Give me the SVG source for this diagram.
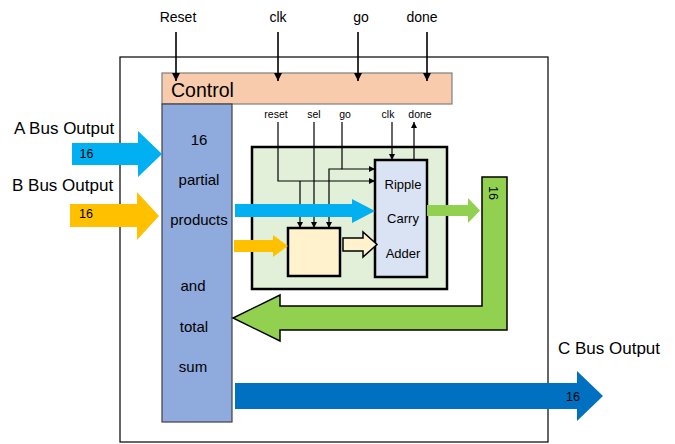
<svg xmlns="http://www.w3.org/2000/svg" width="675" height="444" viewBox="0 0 675 444">
  <defs>
    <marker id="tip" viewBox="0 0 10 10" refX="10" refY="5" markerWidth="6" markerHeight="6" markerUnits="userSpaceOnUse" orient="auto">
      <path d="M0,0 L10,5 L0,10 Z" fill="#000"/>
    </marker>
    <marker id="tipL" viewBox="0 0 10 10" refX="10" refY="5" markerWidth="8" markerHeight="8" markerUnits="userSpaceOnUse" orient="auto">
      <path d="M0,0 L10,5 L0,10 Z" fill="#000"/>
    </marker>
  </defs>
  <style>
    text { font-family: "Liberation Sans", Arial, sans-serif; fill: #000; }
    .lbl { font-size: 17px; }
    .top { font-size: 14px; text-anchor: middle; }
    .sig { font-size: 10.5px; text-anchor: middle; }
    .col { font-size: 15px; text-anchor: middle; }
    .rca { font-size: 13px; text-anchor: middle; }
    .num { font-size: 12.5px; text-anchor: middle; }
    .wire { fill: none; stroke: #000; stroke-width: 1.2; }
    .wireL { fill: none; stroke: #000; stroke-width: 1.6; }
  </style>

  <rect width="675" height="444" fill="#fff"/>

  <!-- outer datapath boundary -->
  <rect id="datapath" x="120" y="57" width="428" height="385" fill="#fff" stroke="#000" stroke-width="1.2"/>

  <!-- control unit -->
  <g id="control">
    <rect x="162" y="73" width="290" height="31" fill="#f8cbad" stroke="#7f7f7f" stroke-width="1.2"/>
    <text x="171" y="97" font-size="19.5">Control</text>
  </g>

  <!-- partial product / sum register column -->
  <g id="accumulator">
    <rect x="162" y="104" width="70" height="318" fill="#8faadc" stroke="#404040" stroke-width="1.2"/>
    <text class="col" x="199" y="145">16</text>
    <text class="col" x="199" y="185">partial</text>
    <text class="col" x="199" y="225">products</text>
    <text class="col" x="193" y="291">and</text>
    <text class="col" x="194" y="332">total</text>
    <text class="col" x="193" y="372">sum</text>
  </g>

  <!-- adder stage -->
  <g id="adder-stage">
    <rect x="252" y="147" width="195" height="142" fill="#e2f0d9" stroke="#000" stroke-width="2.5"/>
  </g>

  <g id="ripple-carry-adder">
    <rect x="375" y="160" width="52" height="117" fill="#dae3f3" stroke="#000" stroke-width="2.5"/>
    <text class="rca" x="403" y="189">Ripple</text>
    <text class="rca" x="403" y="223">Carry</text>
    <text class="rca" x="403" y="258">Adder</text>
  </g>

  <g id="mux">
    <rect x="288" y="228" width="52" height="48" fill="#fff2cc" stroke="#000" stroke-width="2.5"/>
  </g>

  <!-- external labels -->
  <g id="labels">
    <text class="top" x="178" y="22">Reset</text>
    <text class="top" x="278" y="22">clk</text>
    <text class="top" x="361" y="22">go</text>
    <text class="top" x="422" y="22">done</text>
    <text class="lbl" x="14" y="134">A Bus Output</text>
    <text class="lbl" x="12" y="191">B Bus Output</text>
    <text class="lbl" x="558" y="354">C Bus Output</text>
    <text class="sig" x="276" y="118">reset</text>
    <text class="sig" x="314" y="118">sel</text>
    <text class="sig" x="345" y="118">go</text>
    <text class="sig" x="388" y="118">clk</text>
    <text class="sig" x="420" y="118">done</text>
  </g>

  <g id="connectors">
    <!-- control inputs -->
    <line class="wireL" x1="176" y1="32" x2="176" y2="81" marker-end="url(#tipL)"/>
    <line class="wireL" x1="278" y1="32" x2="278" y2="81" marker-end="url(#tipL)"/>
    <line class="wireL" x1="358" y1="32" x2="358" y2="81" marker-end="url(#tipL)"/>
    <line class="wireL" x1="427" y1="32" x2="427" y2="81" marker-end="url(#tipL)"/>

    <!-- reset -->
    <polyline class="wire" points="278,122 278,181 375,181" marker-end="url(#tip)"/>
    <line class="wire" x1="300" y1="181" x2="300" y2="228" marker-end="url(#tip)"/>
    <!-- sel -->
    <line class="wire" x1="314" y1="122" x2="314" y2="228" marker-end="url(#tip)"/>
    <!-- go -->
    <polyline class="wire" points="342,122 342,169 375,169" marker-end="url(#tip)"/>
    <polyline class="wire" points="342,169 329,169 329,228" marker-end="url(#tip)"/>
    <!-- clk / done -->
    <line class="wire" x1="392" y1="122" x2="392" y2="160" marker-end="url(#tip)"/>
    <line class="wire" x1="414" y1="160" x2="414" y2="122" marker-end="url(#tip)"/>

    <!-- A bus in -->
    <polygon points="72,143 138,143 138,131 162,154 138,177 138,165 72,165" fill="#00b0f0"/>
    <text class="num" x="86.5" y="158">16</text>
    <!-- B bus in -->
    <polygon points="70,204 137,204 137,192 159,216 137,240 137,227 70,227" fill="#ffc000"/>
    <text class="num" x="86" y="218">16</text>

    <!-- partial product into adder -->
    <polygon points="235,204 352,204 352,199 375,211 352,223 352,217 235,217" fill="#00b0f0"/>
    <!-- B bit into mux -->
    <polygon points="234,240 273,240 273,235 288,246 273,257 273,252 234,252" fill="#ffc000"/>
    <!-- mux to adder -->
    <polygon points="343,238 363,238 363,232 377,244.5 363,257 363,251 343,251" fill="#fff2cc" stroke="#000" stroke-width="1.5"/>

    <!-- adder result -->
    <polygon points="427,205 468,205 468,198 480,210.5 468,223 468,216 427,216" fill="#92d050"/>
    <!-- sum feedback -->
    <polygon points="482,177 507,177 507,330 280,330 280,341 233,318 280,295 280,306 482,306" fill="#92d050" stroke="#000" stroke-width="1.5"/>
    <text class="num" x="493.5" y="193" transform="rotate(90 493.5 193)" dy="4.5">16</text>

    <!-- C bus out -->
    <polygon points="235,383 577,383 577,371 603,396 577,421 577,409 235,409" fill="#0070c0"/>
    <text class="num" x="573" y="401">16</text>
  </g>
</svg>
